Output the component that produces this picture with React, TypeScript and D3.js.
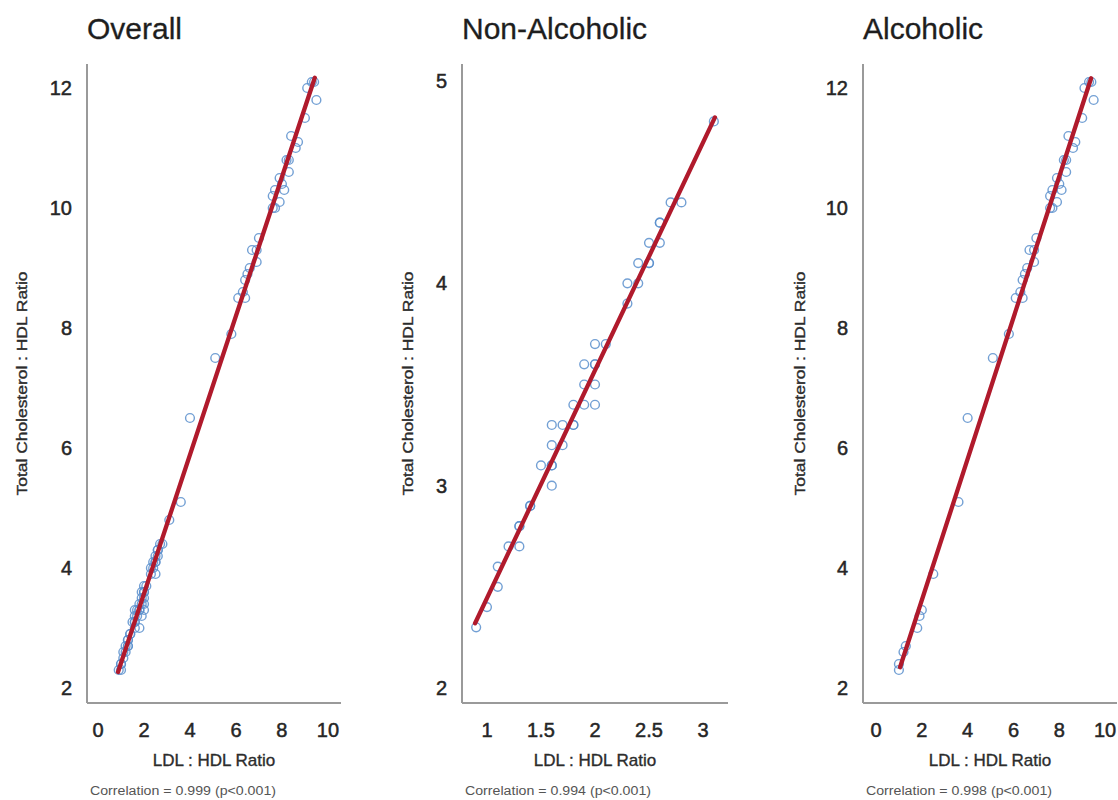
import React from 'react';
import * as d3 from 'd3';

// LDL:HDL ratio (x) vs Total Cholesterol:HDL ratio (y)
const nonAlcoholic: [number, number][] = [
  [0.9, 2.3], [1.0, 2.4], [1.1, 2.5], [1.1, 2.6], [1.2, 2.7], [1.3, 2.7], [1.3, 2.8], [1.3, 2.8],
  [1.4, 2.9], [1.4, 2.9], [1.6, 3.0], [1.5, 3.1], [1.6, 3.1], [1.6, 3.1], [1.6, 3.2], [1.7, 3.2],
  [1.6, 3.3], [1.7, 3.3], [1.8, 3.3], [1.8, 3.3], [1.8, 3.4], [1.9, 3.4], [2.0, 3.4], [1.9, 3.5],
  [2.0, 3.5], [1.9, 3.6], [2.0, 3.6], [2.0, 3.6], [2.0, 3.7], [2.1, 3.7], [2.3, 3.9], [2.3, 4.0],
  [2.4, 4.0], [2.4, 4.1], [2.5, 4.1], [2.5, 4.1], [2.5, 4.2], [2.6, 4.2], [2.6, 4.3], [2.6, 4.3],
  [2.7, 4.4], [2.8, 4.4], [3.1, 4.8],
];

const alcoholic: [number, number][] = [
  [1.0, 2.3], [1.0, 2.4], [1.2, 2.6], [1.3, 2.7], [1.8, 3.0], [1.9, 3.2], [2.0, 3.3], [2.5, 3.9],
  [3.6, 5.1], [4.0, 6.5], [5.1, 7.5], [5.8, 7.9],
  [6.1, 8.5], [6.4, 8.5], [6.3, 8.6], [6.4, 8.8], [6.5, 8.9], [6.6, 9.0], [6.9, 9.1], [6.7, 9.3],
  [6.9, 9.3], [7.0, 9.5], [7.6, 10.0], [7.7, 10.0], [7.9, 10.1], [7.6, 10.2], [7.7, 10.3],
  [8.1, 10.3], [8.0, 10.4], [7.9, 10.5], [8.3, 10.6], [8.2, 10.8], [8.3, 10.8], [8.6, 11.0],
  [8.7, 11.1], [8.4, 11.2], [9.0, 11.5], [9.5, 11.8], [9.1, 12.0], [9.4, 12.1], [9.3, 12.1],
];

const overall: [number, number][] = [...nonAlcoholic, ...alcoholic];

const titles = ['Overall', 'Non-Alcoholic', 'Alcoholic'];
const groups = [overall, nonAlcoholic, alcoholic];
const xTicksWide = [0, 2, 4, 6, 8, 10];
const yTicksWide = [2, 4, 6, 8, 10, 12];
const xTicksNon = [1, 1.5, 2, 2.5, 3];
const yTicksNon = [2, 3, 4, 5];
const fitSlopes = [1.157, 1.126, 1.177];
const fitIntercepts = [1.26, 1.318, 1.11];
const fitXRanges: [number, number][] = [[0.87, 9.43], [0.89, 3.11], [1.05, 9.39]];
const correlations = ['0.999', '0.994', '0.998'];
const xDomains: [number, number][] = [[-0.48, 10.57], [0.769, 3.231], [-0.568, 10.52]];
const yDomains: [number, number][] = [[1.75, 12.4], [1.926, 5.084], [1.75, 12.4]];

const layout = [
  { left: 87, right: 341, labelX: 27 },
  { left: 462, right: 728, labelX: 413 },
  { left: 863, right: 1117, labelX: 805 },
];
const TOP = 64;
const BOTTOM = 703;
const FONT = '"Liberation Sans", Arial, sans-serif';

function Panel({ i }: { i: number }) {
  const { left, right, labelX } = layout[i];
  const x = d3.scaleLinear().domain(xDomains[i]).range([left, right]);
  const y = d3.scaleLinear().domain(yDomains[i]).range([BOTTOM, TOP]);
  const xTicks = i === 1 ? xTicksNon : xTicksWide;
  const yTicks = i === 1 ? yTicksNon : yTicksWide;
  const [fx0, fx1] = fitXRanges[i];
  const fitLine = d3.line<number>()
    .x((v) => x(v))
    .y((v) => y(fitIntercepts[i] + fitSlopes[i] * v))([fx0, fx1]);
  const midY = (TOP + BOTTOM) / 2;
  return (
    <g>
      <text x={left} y={39} fontSize={30} fill="#1e1e1e" stroke="#1e1e1e" strokeWidth={0.3}
        fontFamily={FONT}>{titles[i]}</text>
      <line x1={left} x2={left} y1={TOP} y2={BOTTOM} stroke="#9a9a9a" strokeWidth={2} />
      <line x1={left} x2={right} y1={BOTTOM} y2={BOTTOM} stroke="#9a9a9a" strokeWidth={2} />
      {yTicks.map((t) => (
        <text key={'y' + t} x={left - 15} y={y(t)} dy="0.35em" textAnchor="end" fontSize={20}
          fill="#262626" stroke="#262626" strokeWidth={0.5} fontFamily={FONT}>{String(t)}</text>
      ))}
      {xTicks.map((t) => (
        <text key={'x' + t} x={x(t)} y={BOTTOM + 34} textAnchor="middle" fontSize={20}
          fill="#262626" stroke="#262626" strokeWidth={0.5} fontFamily={FONT}>{String(t)}</text>
      ))}
      <text transform={`translate(${labelX},${midY}) rotate(-90)`} textAnchor="middle" fontSize={14}
        textLength={224} lengthAdjust="spacingAndGlyphs" fill="#2c2c2c" stroke="#2c2c2c" strokeWidth={0.35}
        fontFamily={FONT}>
        Total Cholesterol : HDL Ratio
      </text>
      <text x={(left + right) / 2} y={766} textAnchor="middle" fontSize={17} fill="#2c2c2c"
        stroke="#2c2c2c" strokeWidth={0.35} fontFamily={FONT}>
        LDL : HDL Ratio
      </text>
      <text x={left + 3} y={795} fontSize={12.5} textLength={186} lengthAdjust="spacingAndGlyphs"
        fill="#555" fontFamily={FONT}>
        {`Correlation = ${correlations[i]} (p<0.001)`}
      </text>
      {groups[i].map((d, k) => (
        <circle key={k} cx={x(d[0])} cy={y(d[1])} r={4.4} fill="none" stroke="#5b8fcc"
          strokeOpacity={0.85} strokeWidth={1.4} />
      ))}
      <path d={fitLine || ''} stroke="#b01a2c" strokeWidth={4.3} fill="none" strokeLinecap="round" />
    </g>
  );
}

export default function App() {
  return (
    <svg width={1118} height={800} style={{ position: 'absolute', left: 0, top: 0, background: '#fff' }}>
      <rect width={1118} height={800} fill="#fff" />
      {[0, 1, 2].map((i) => <Panel key={i} i={i} />)}
    </svg>
  );
}
